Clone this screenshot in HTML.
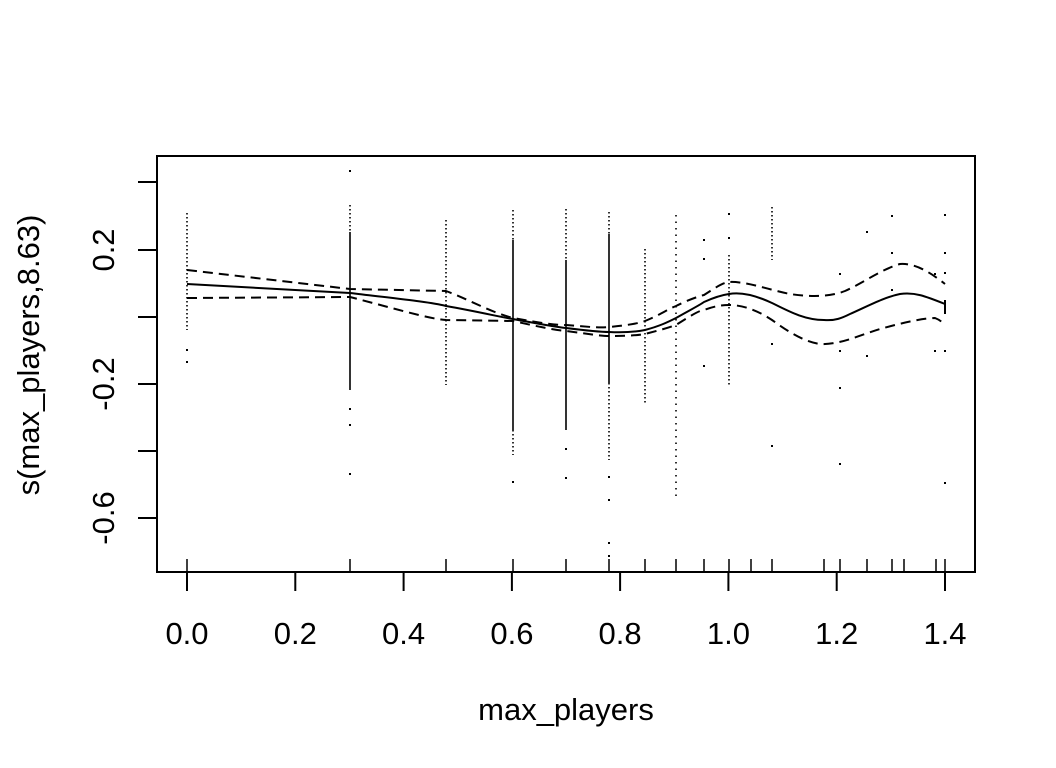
<!DOCTYPE html>
<html><head><style>body{margin:0;background:#fff}svg{display:block}text{font-family:"Liberation Sans",Arial,sans-serif;font-size:31px;fill:#000}</style></head>
<body>
<svg width="1056" height="768" xmlns="http://www.w3.org/2000/svg">
<rect x="157" y="156" width="818" height="416" fill="none" stroke="#000" stroke-width="2"/>
<g stroke="#000" stroke-width="2">
<line x1="138" y1="182" x2="157" y2="182"/><line x1="138" y1="250" x2="157" y2="250"/><line x1="138" y1="317" x2="157" y2="317"/><line x1="138" y1="384" x2="157" y2="384"/><line x1="138" y1="451" x2="157" y2="451"/><line x1="138" y1="518" x2="157" y2="518"/>
<line x1="187" y1="572" x2="187" y2="591"/><line x1="295.3" y1="572" x2="295.3" y2="591"/><line x1="403.6" y1="572" x2="403.6" y2="591"/><line x1="511.9" y1="572" x2="511.9" y2="591"/><line x1="620.1" y1="572" x2="620.1" y2="591"/><line x1="728.4" y1="572" x2="728.4" y2="591"/><line x1="836.7" y1="572" x2="836.7" y2="591"/><line x1="945" y1="572" x2="945" y2="591"/>
</g>
<g stroke="#000" stroke-width="1.5">
<line x1="187" y1="559" x2="187" y2="572"/><line x1="350" y1="559" x2="350" y2="572"/><line x1="446" y1="559" x2="446" y2="572"/><line x1="513" y1="559" x2="513" y2="572"/><line x1="566" y1="559" x2="566" y2="572"/><line x1="609" y1="559" x2="609" y2="572"/><line x1="645" y1="559" x2="645" y2="572"/><line x1="676" y1="559" x2="676" y2="572"/><line x1="704" y1="559" x2="704" y2="572"/><line x1="729" y1="559" x2="729" y2="572"/><line x1="751" y1="559" x2="751" y2="572"/><line x1="772" y1="559" x2="772" y2="572"/><line x1="824" y1="559" x2="824" y2="572"/><line x1="840" y1="559" x2="840" y2="572"/><line x1="867" y1="559" x2="867" y2="572"/><line x1="892" y1="559" x2="892" y2="572"/><line x1="904" y1="559" x2="904" y2="572"/><line x1="936" y1="559" x2="936" y2="572"/><line x1="945" y1="559" x2="945" y2="572"/>
</g>
<g stroke="#000" stroke-width="1.6">
<g stroke-dasharray="1.5 2.5">
<line x1="187" y1="213" x2="187" y2="330"/>
<line x1="350" y1="205" x2="350" y2="232"/>
<line x1="446" y1="220" x2="446" y2="385"/>
<line x1="513" y1="210" x2="513" y2="240"/><line x1="513" y1="430" x2="513" y2="455"/>
<line x1="566" y1="209" x2="566" y2="260"/>
<line x1="609" y1="212" x2="609" y2="234"/><line x1="609" y1="383" x2="609" y2="460"/>
<line x1="645" y1="249" x2="645" y2="403"/>
<line x1="676" y1="215" x2="676" y2="500" stroke-dasharray="1.5 5"/>
<line x1="729" y1="255" x2="729" y2="385"/>
<line x1="772" y1="207" x2="772" y2="260"/>
</g>
<line x1="350" y1="232" x2="350" y2="390"/>
<line x1="513" y1="240" x2="513" y2="430"/>
<line x1="566" y1="260" x2="566" y2="430"/>
<line x1="609" y1="234" x2="609" y2="383"/>
</g>
<g fill="#000">
<rect x="186" y="349" width="2" height="2"/><rect x="186" y="361" width="2" height="2"/>
<rect x="349" y="170" width="2" height="2"/><rect x="349" y="408" width="2" height="2"/><rect x="349" y="424" width="2" height="2"/><rect x="349" y="473" width="2" height="2"/>
<rect x="512" y="481" width="2" height="2"/>
<rect x="565" y="448" width="2" height="2"/><rect x="565" y="477" width="2" height="2"/>
<rect x="608" y="476" width="2" height="2"/><rect x="608" y="499" width="2" height="2"/><rect x="608" y="542" width="2" height="2"/><rect x="608" y="555" width="2" height="2"/>
<rect x="703" y="239" width="2" height="2"/><rect x="703" y="258" width="2" height="2"/><rect x="703" y="365" width="2" height="2"/>
<rect x="728" y="213" width="2" height="2"/><rect x="728" y="237" width="2" height="2"/>
<rect x="771" y="445" width="2" height="2"/><rect x="771" y="343" width="2" height="2"/>
<rect x="839" y="273" width="2" height="2"/><rect x="839" y="350" width="2" height="2"/><rect x="839" y="387" width="2" height="2"/><rect x="839" y="463" width="2" height="2"/>
<rect x="866" y="231" width="2" height="2"/><rect x="866" y="355" width="2" height="2"/>
<rect x="891" y="215" width="2" height="2"/><rect x="891" y="252" width="2" height="2"/><rect x="891" y="289" width="2" height="2"/>
<rect x="934" y="273" width="2" height="2"/><rect x="934" y="350" width="2" height="2"/>
<rect x="944" y="214" width="2" height="2"/><rect x="944" y="252" width="2" height="2"/><rect x="944" y="272" width="2" height="2"/><rect x="944" y="300" width="2" height="14"/><rect x="944" y="350" width="2" height="2"/><rect x="944" y="482" width="2" height="2"/>
</g>
<g fill="none" stroke="#000" stroke-width="2" stroke-linejoin="round">
<path d="M187,284 L350,293 C400,299 430,302 446,306 C480,312 500,317 513,319 C540,324 555,327 566,328 C590,331 600,332 609,332 C630,333 640,331 645,330 C660,326 668,322 676,318 C690,310 700,305 704,302 C715,297 722,295 729,294 C740,292 755,295 772,303 C790,312 805,320 824,320 C835,321 842,318 850,314 C870,305 885,297 900,294 C915,292 925,296 945,304"/>
<g stroke-dasharray="10 6">
<path d="M187,270 L350,289 L446,291 C470,300 490,312 513,318 C540,323 555,325 566,325 C590,327 600,328 609,327 C630,325 640,323 645,321 C660,315 668,309 676,306 C690,299 700,296 704,295 C715,288 722,283 729,282 C745,281 770,290 790,294 C810,297 830,297 845,291 C865,282 880,270 900,264 C915,263 930,272 945,284"/>
<path d="M187,298 L350,297 C400,310 430,319 446,320 L513,321 C540,327 555,330 566,331 C590,334 600,336 609,336 C630,336 640,335 645,334 C660,330 668,328 676,325 C690,316 700,310 704,310 C715,306 722,305 729,305 C745,305 760,312 772,320 C790,333 805,342 820,344 C840,345 860,335 880,329 C905,322 925,318 935,318 C940,320 942,322 945,325"/>
</g>
</g>
<g text-anchor="middle">
<text x="187" y="644">0.0</text><text x="295.3" y="644">0.2</text><text x="403.6" y="644">0.4</text><text x="511.9" y="644">0.6</text><text x="620.1" y="644">0.8</text><text x="728.4" y="644">1.0</text><text x="836.7" y="644">1.2</text><text x="945" y="644">1.4</text>
<text x="566" y="720">max_players</text>
<text transform="translate(114,250) rotate(-90)">0.2</text>
<text transform="translate(114,384) rotate(-90)">-0.2</text>
<text transform="translate(114,518) rotate(-90)">-0.6</text>
<text transform="translate(39,355) rotate(-90)">s(max_players,8.63)</text>
</g>
</svg>
</body></html>
